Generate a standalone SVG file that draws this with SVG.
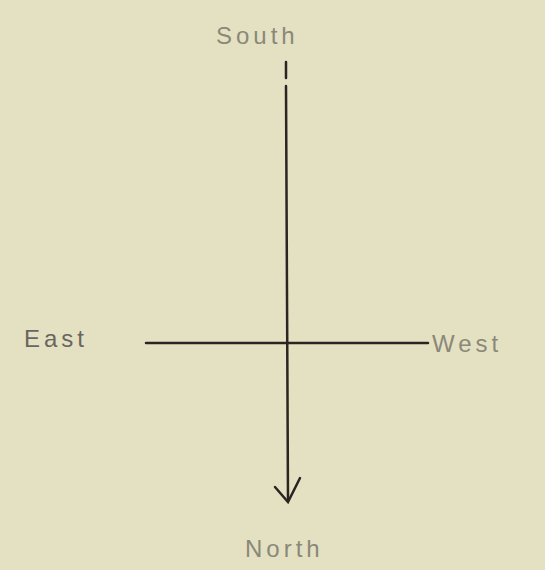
<svg xmlns="http://www.w3.org/2000/svg" width="545" height="570" viewBox="0 0 545 570">
<style>
.lbl{font-family:"Liberation Sans",Arial,sans-serif;font-size:24px;fill:#8a8878;letter-spacing:4px}
.dark{fill:#4a4542}
.ln{stroke:#2a2422;stroke-width:2.5;fill:none;stroke-linecap:round}
</style>
<rect width="545" height="570" fill="#e4e1c2"/>
<g id="connectors">
<path class="ln" d="M286 62 L286 78 M286 86 L288 500"/>
<path class="ln" d="M146 343 L428 343" stroke-width="3"/>
<path class="ln" d="M275 487 L288 502 L300 478"/>
</g>
<g id="south"><text class="lbl" x="216" y="44">South</text></g>
<g id="east"><text class="lbl dark" x="24" y="347" style="fill:#6a6560">East</text></g>
<g id="west"><text class="lbl" x="432" y="352">West</text></g>
<g id="north"><text class="lbl" x="245" y="557">North</text></g>
</svg>
